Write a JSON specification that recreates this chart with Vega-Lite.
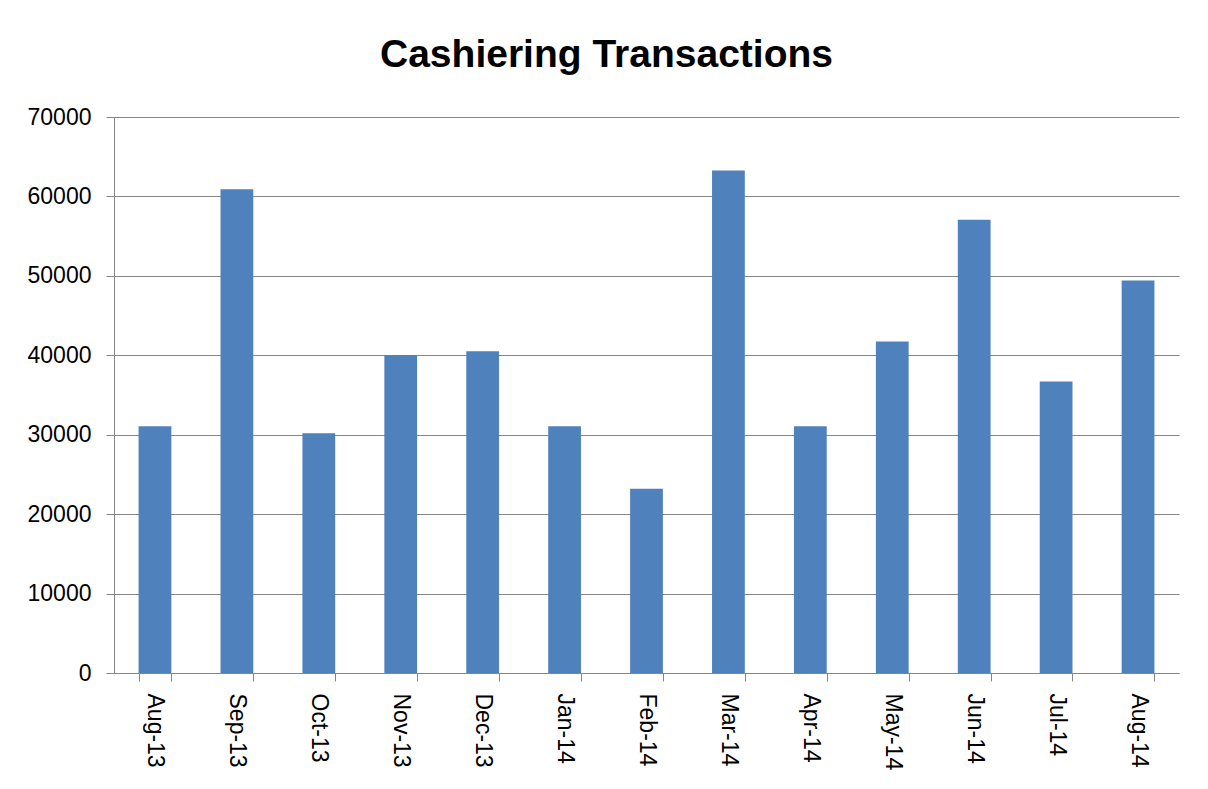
{
  "$schema": "https://vega.github.io/schema/vega-lite/v6.json",
  "autosize": "none",
  "width": 1065,
  "height": 556,
  "padding": {"left": 114, "top": 117, "right": 29, "bottom": 116},
  "background": "white",
  "title": {
    "text": "Cashiering Transactions",
    "font": "Liberation Sans",
    "fontSize": 39,
    "fontWeight": "bold",
    "color": "#000000",
    "anchor": "middle",
    "baseline": "alphabetic",
    "offset": 0,
    "dx": -40
  },
  "data": {
    "values": [
      {"month": "Aug-13", "value": 31050},
      {"month": "Sep-13", "value": 60900},
      {"month": "Oct-13", "value": 30200},
      {"month": "Nov-13", "value": 40050},
      {"month": "Dec-13", "value": 40500},
      {"month": "Jan-14", "value": 31050},
      {"month": "Feb-14", "value": 23200},
      {"month": "Mar-14", "value": 63250},
      {"month": "Apr-14", "value": 31050},
      {"month": "May-14", "value": 41750},
      {"month": "Jun-14", "value": 57050},
      {"month": "Jul-14", "value": 36700},
      {"month": "Aug-14", "value": 49400}
    ]
  },
  "mark": {"type": "bar", "color": "#4F81BD"},
  "encoding": {
    "x": {
      "field": "month",
      "type": "nominal",
      "sort": null,
      "scale": {"paddingInner": 0.6, "paddingOuter": 0.3},
      "axis": {
        "title": null,
        "labelAngle": 90,
        "labelFont": "Liberation Sans",
        "labelFontSize": 23,
        "labelColor": "#000000",
        "labelPadding": 12,
        "tickBand": "extent",
        "tickSize": 8,
        "tickColor": "#868686",
        "domainColor": "#868686",
        "grid": false
      }
    },
    "y": {
      "field": "value",
      "type": "quantitative",
      "scale": {"domain": [0, 70000], "nice": false},
      "axis": {
        "title": null,
        "values": [0, 10000, 20000, 30000, 40000, 50000, 60000, 70000],
        "format": "d",
        "labelFont": "Liberation Sans",
        "labelFontSize": 23,
        "labelColor": "#000000",
        "labelPadding": 15,
        "tickSize": 8,
        "tickColor": "#868686",
        "domainColor": "#868686",
        "grid": true,
        "gridColor": "#868686",
        "gridOpacity": 1
      }
    }
  },
  "config": {
    "view": {"stroke": null}
  }
}
